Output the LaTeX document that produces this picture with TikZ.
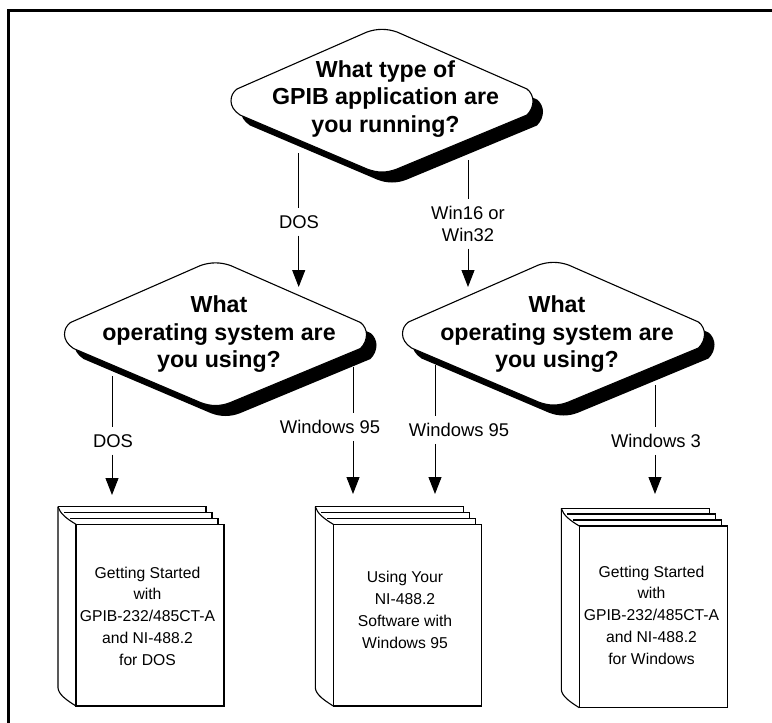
\documentclass[tikz,border=0pt]{standalone}
\usepackage{fontspec}
\setmainfont{Liberation Sans}
\usetikzlibrary{arrows.meta}
\tikzset{
  frameline/.style={line width=3pt,line join=miter},
  conn/.style={line width=1pt},
  arrowed/.style={-{Triangle[width=13pt,length=17pt]}},
  edgelabel/.style={font=\fontsize{18.4}{21.5}\selectfont,align=center,inner sep=0pt,inner ysep=7pt,outer sep=0pt},
  qtext/.style={font=\bfseries\fontsize{23.2}{27.5}\selectfont,align=center,inner sep=0pt},
  booktext/.style={font=\fontsize{15.7}{21.8}\selectfont,align=center,inner sep=0pt},
  bookline/.style={line width=1.1pt,line join=miter},
  qline/.style={line width=1.1pt}
}
\newcommand{\qshape}{(-145,-12) -- (-15,-69) .. controls (-5,-72.5) and (5,-72.5) .. (15,-69) -- (145,-12) .. controls (149,-9) and (151,-4) .. (151,0) .. controls (151,5) and (149,10) .. (145,14) -- (15,68) .. controls (5,72) and (-5,72) .. (-15,68) -- (-142,14) .. controls (-148,10) and (-151,5) .. (-151,0) .. controls (-151,-5) and (-149,-9) .. (-145,-12) -- cycle}
% name, cx, cy, text centre y, text
\newcommand{\decision}[5]{%
  \begin{scope}[shift={(#2+10,#3+10.5)}]\fill[black] \qshape;\end{scope}
  \begin{scope}[shift={(#2,#3)}]\filldraw[qline,fill=white,draw=black] \qshape;\end{scope}
  \node[qtext] (#1) at (#2+3.5,#4) {#5};
}
% name, front-left x, top of front y, text centre x, text centre y, text
\newcommand{\book}[6]{%
  \begin{scope}[shift={(#2,#3)}]
    \draw[bookline] (-18,-17.6) -- (130,-17.6) -- (130,-12) -- (136,-12) -- (136,-6) -- (142,-6) -- (142,0);
    \draw[bookline] (-12,-12) -- (130,-12);
    \draw[bookline] (-6,-6) -- (136,-6);
    \draw[bookline] (-18,-17.6) .. controls (-16,-11) and (-10,-6) .. (0,0);
    \draw[bookline] (-18,-17.6) -- (-18,163.5) .. controls (-17.5,170) and (-10,175.5) .. (0,181.7);
    \draw[bookline] (0,0) rectangle (148,181.7);
  \end{scope}
  \node[booktext] (#1) at (#4,#5) {#6};
}
\begin{document}
\begin{tikzpicture}[x=1pt,y=-1pt]
\useasboundingbox (0,0) rectangle (772,723);
\fill[white] (0,0) rectangle (772,723);
\draw[frameline] (772,10.5) -- (8.5,10.5) -- (8.5,723);

\decision{q1}{382}{101}{99}{What type of\\GPIB application are\\you running?}
\decision{q2}{215.5}{334.5}{334.5}{What\\operating system are\\you using?}
\decision{q3}{553.5}{334}{334.5}{What\\operating system are\\you using?}

\book{b1}{76}{524.3}{147.5}{616}{Getting Started\\with\\GPIB-232/485CT-A\\and NI-488.2\hspace*{4pt}\\for DOS}
\book{b2}{333.3}{524.3}{405}{610}{Using Your\\NI-488.2\hspace*{4pt}\\Software with\\Windows 95}
\book{b3}{579.3}{526}{651.5}{615}{Getting Started\\with\\GPIB-232/485CT-A\\and NI-488.2\\for Windows}

\node[edgelabel] (l1) at (299,222) {DOS};
\node[edgelabel] (l2) at (468,224) {Win16 or\\Win32};
\node[edgelabel] (l3) at (113,441) {DOS};
\node[edgelabel] (l4) at (330,427) {Windows 95};
\node[edgelabel] (l5) at (459,430) {Windows 95};
\node[edgelabel] (l6) at (656,441) {Windows 3};

\coordinate (s1) at (298.7,153); \coordinate (t1) at (298.7,287);
\coordinate (s2) at (468,160);   \coordinate (t2) at (468,287);
\coordinate (s3) at (112,376);   \coordinate (t3) at (112,495);
\coordinate (s4) at (353,367);   \coordinate (t4) at (353,494);
\coordinate (s5) at (435,365);   \coordinate (t5) at (435,494);
\coordinate (s6) at (655,385);   \coordinate (t6) at (655,494);

\foreach \i in {1,...,6}{
  \draw[conn] (s\i) -- (s\i |- l\i.north);
  \draw[conn,arrowed] (s\i |- l\i.south) -- (t\i);
}
\end{tikzpicture}
\end{document}
